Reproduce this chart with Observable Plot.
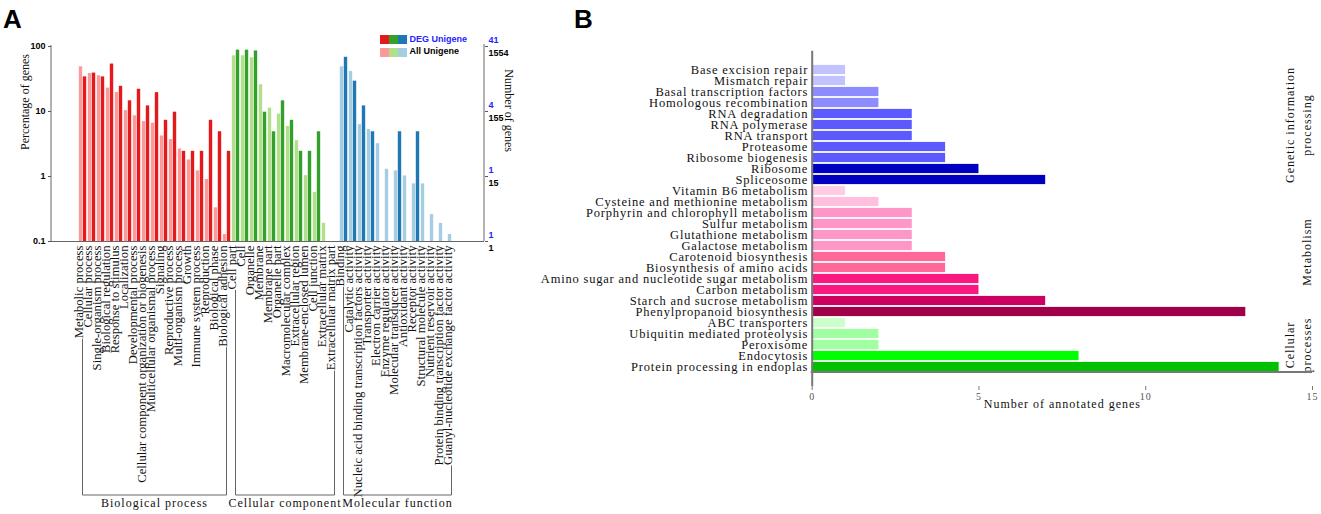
<!DOCTYPE html>
<html><head><meta charset="utf-8">
<script src="https://cdn.jsdelivr.net/npm/d3@7"></script>
<script src="https://cdn.jsdelivr.net/npm/@observablehq/plot@0.6"></script>
<style>
body{margin:0;background:#fff;}
#wrap{position:relative;width:1321px;height:514px;overflow:hidden;}
.abs{position:absolute;}
.letter{position:absolute;font:bold 26px "Liberation Sans",Arial,sans-serif;line-height:26px;color:#000;}
.sw{position:absolute;width:8.5px;height:8.5px;}
.legtxt{position:absolute;font:bold 9px "Liberation Sans",Arial,sans-serif;line-height:9px;white-space:nowrap;}
</style></head>
<body><div id="wrap">
<div id="panelA" class="abs" style="left:0;top:0;width:540px;height:514px"></div>
<div id="panelB" class="abs" style="left:521px;top:0;width:800px;height:514px"></div>
<div class="letter" style="left:3px;top:6px">A</div>
<div class="letter" style="left:574px;top:6px">B</div>
<div id="legend"></div>
</div>
<script>
// ---------- Panel A data (percentage of genes) ----------
const bioCats = ["Metabolic process","Cellular process","Single-organism process","Biological regulation","Response to stimulus","Localization","Developmental process","Cellular component organization or biogenesis","Multicellular organismal process","Signaling","Reproductive process","Multi-organism process","Growth","Immune system process","Reproduction","Biological phase","Biological adhesion"];
const bioAll = [48.7,38.5,35.4,22.9,19.6,10.3,8.6,7.0,6.6,4.2,3.7,2.65,1.8,1.22,0.9,0.33,0.128];
const bioDeg = [34.1,39.0,34.1,53.7,24.4,14.6,22.0,12.2,19.5,7.32,9.76,2.44,2.44,2.44,7.32,4.88,2.44];

const ccCats = ["Cell part","Cell","Organelle","Membrane","Membrane part","Organelle part","Macromolecular complex","Extracellular region","Membrane-enclosed lumen","Cell junction","Extracellular matrix","Extracellular matrix part"];
const ccAll = [71.9,71.9,67.0,25.8,11.3,9.1,5.9,3.56,1.03,0.57,0.19,null];
const ccDeg = [87.8,87.8,85.4,9.76,4.88,14.6,7.32,2.44,2.44,4.88,null,null];

const mfCats = ["Binding","Catalytic activity","Nucleic acid binding transcription factors activity","Transporter activity","Electron carrier activity","Enzyme regulator activity","Molecular transducer activity","Antioxidant activity","Receptor activity","Structural molecule activity","Nutrient reservoir activity","Protein binding transcription factor activity","Guanyl-nucleotide exchange factor activity"];
const mfAll = [48.7,41.3,6.26,5.3,3.2,1.29,1.22,1.02,0.77,0.77,0.26,0.19,0.128];
const mfDeg = [68.3,29.3,12.2,4.88,null,null,4.88,null,4.88,null,null,null,null];

const groupNamesA = ["Biological process","Cellular component","Molecular function"];
const percentTicks = [0.1,1,10,100];
const degCountLabels = ["1","1","4","41"];
const allCountLabels = ["1","15","155","1554"];
const legendLabels = ["DEG Unigene","All Unigene"];

// ---------- Panel B data ----------
const pathways = ["Base excision repair","Mismatch repair","Basal transcription factors","Homologous recombination","RNA degradation","RNA polymerase","RNA transport","Proteasome","Ribosome biogenesis","Ribosome","Spliceosome","Vitamin B6 metabolism","Cysteine and methionine metabolism","Porphyrin and chlorophyll metabolism","Sulfur metabolism","Glutathione metabolism","Galactose metabolism","Carotenoid biosynthesis","Biosynthesis of amino acids","Amino sugar and nucleotide sugar metabolism","Carbon metabolism","Starch and sucrose metabolism","Phenylpropanoid biosynthesis","ABC transporters","Ubiquitin mediated proteolysis","Peroxisome","Endocytosis","Protein processing in endoplas"];
const geneCounts = [1,1,2,2,3,3,3,4,4,5,7,1,2,3,3,3,3,4,4,5,5,7,13,1,2,2,8,14];
const pathwayClass = ["Genetic information processing","Genetic information processing","Genetic information processing","Genetic information processing","Genetic information processing","Genetic information processing","Genetic information processing","Genetic information processing","Genetic information processing","Genetic information processing","Genetic information processing","Metabolism","Metabolism","Metabolism","Metabolism","Metabolism","Metabolism","Metabolism","Metabolism","Metabolism","Metabolism","Metabolism","Metabolism","Cellular processes","Cellular processes","Cellular processes","Cellular processes","Cellular processes"];
const classLabels = ["Genetic information\nprocessing","Metabolism","Cellular\nprocesses"];
const xTicksB = [0,5,10,15];

// ---------- styles ----------
const serif = "'Liberation Serif','Times New Roman',serif";
const sans = "'Liberation Sans',Arial,sans-serif";
const paletteA = {
  "Biological process": ["#fb9a99","#e31a1c"],
  "Cellular component": ["#b2df8a","#33a02c"],
  "Molecular function": ["#a6cee3","#1f78b4"]
};
const degBlue = "#2323ff";
const shadeB = {
  "Genetic information processing": {1:"#c2c2ff",2:"#8c8cff",3:"#5a5aff",4:"#5a5aff",5:"#0000c0",7:"#0000c0"},
  "Metabolism": {1:"#ffcce6",2:"#ffc0e0",3:"#ff96c8",4:"#ff6898",5:"#f81880",7:"#cc0060",13:"#a00048"},
  "Cellular processes": {1:"#ccffcc",2:"#a0ffa0",8:"#00ff00",14:"#00c000"}
};
const classColor = {"Genetic information processing":"#1a1aff","Metabolism":"#ff1a1a","Cellular processes":"#33dd33"};
const labelFontA = 12.7, labelSpacingA = 0;
const serifSize = 12, serifSpacing = 1;
const labelFontB = 12.5, labelSpacingB = 0.8;

// ---------- build tables ----------
const groupsA = [
  {name: groupNamesA[0], cats: bioCats, all: bioAll, deg: bioDeg},
  {name: groupNamesA[1], cats: ccCats, all: ccAll, deg: ccDeg},
  {name: groupNamesA[2], cats: mfCats, all: mfAll, deg: mfDeg}
];
const rowsA = groupsA.flatMap(g => g.cats.map((c,i) => ({cat:c, group:g.name, all:g.all[i], deg:g.deg[i]})));
const xDomain = rowsA.map(d => d.cat);
const rightAxis = percentTicks.map((v,i) => ({v, deg:degCountLabels[i], all:allCountLabels[i]}));

const plotA = Plot.plot({
  width:540, height:514,
  marginLeft:51, marginRight:56, marginTop:46, marginBottom:273,
  style:{background:"transparent", overflow:"visible", fontFamily:serif},
  x:{domain:xDomain, padding:0, insetLeft:16, insetRight:17, axis:null},
  y:{type:"log", domain:[0.1,100], axis:null},
  marks:[
    Plot.barY(rowsA.filter(d => d.all != null), {x:"cat", y1:0.1, y2:"all", fill:d => paletteA[d.group][0], insetLeft:0.8, insetRight:4.8}),
    Plot.barY(rowsA.filter(d => d.deg != null), {x:"cat", y1:0.1, y2:"deg", fill:d => paletteA[d.group][1], insetLeft:4.8, insetRight:0.8}),
    Plot.ruleY([0.1], {stroke:"#666"}),
    Plot.axisY({anchor:"left", ticks:percentTicks, tickFormat:d => d < 1 ? "0.1" : String(d), tickSize:3, tickPadding:3, fontFamily:sans, fontWeight:"bold", fontSize:9, stroke:"#555", fill:"#000", label:null}),
    Plot.axisY({anchor:"right", ticks:percentTicks, tickFormat:() => "", tickSize:3, stroke:"#555", label:null}),
    Plot.text(rightAxis, {y:"v", text:"deg", frameAnchor:"right", dx:4, dy:-6, textAnchor:"start", fill:degBlue, fontFamily:sans, fontWeight:"bold", fontSize:9}),
    Plot.text(rightAxis, {y:"v", text:"all", frameAnchor:"right", dx:4, dy:7, textAnchor:"start", fill:"#000", fontFamily:sans, fontWeight:"bold", fontSize:9}),
    Plot.text(xDomain, {x:d => d, text:d => d, frameAnchor:"bottom", rotate:-90, textAnchor:"end", dy:4, fontFamily:serif, fontSize:labelFontA, fill:"#111", ariaLabel:"category-labels"}),
    Plot.text(["Percentage of genes"], {frameAnchor:"left", rotate:-90, dx:-26, dy:6, fontFamily:serif, fontSize:serifSize, fill:"#111", ariaLabel:"serif-title"}),
    Plot.text(["Number of genes"], {frameAnchor:"right", rotate:90, dx:24, dy:8, fontFamily:serif, fontSize:serifSize, fill:"#111", ariaLabel:"serif-title"})
  ]
});
document.getElementById("panelA").appendChild(plotA);
d3.select(plotA).selectAll('g[aria-label="category-labels"]').attr("letter-spacing", labelSpacingA + "px");
d3.select(plotA).selectAll('g[aria-label="serif-title"]').attr("letter-spacing", serifSpacing + "px");

// axis lines + group brackets drawn from Plot's scales
(function(){
  const xs = plotA.scale("x"), ys = plotA.scale("y");
  const bw = xs.bandwidth;
  const cx = c => xs.apply(c) + bw/2;
  const yTop = ys.apply(100), yBot = ys.apply(0.1);
  const svg = d3.select(plotA);
  const g = svg.append("g").attr("stroke","#666").attr("fill","none");
  g.append("line").attr("x1",51).attr("x2",51).attr("y1",yTop-1).attr("y2",yBot);
  g.append("line").attr("x1",484).attr("x2",484).attr("y1",yTop-2).attr("y2",yBot);
  const ctx = document.createElement("canvas").getContext("2d");
  ctx.font = labelFontA + "px 'Liberation Serif'";
  const labTop = yBot + 4;
  const brY = 495;
  groupsA.forEach(gr => {
    const first = gr.cats[0], last = gr.cats[gr.cats.length-1];
    const x1 = cx(first), x2 = cx(last);
    [first,last].forEach((c,i) => {
      const x = i ? x2 : x1;
      const len = ctx.measureText(c).width + c.length * labelSpacingA;
      g.append("line").attr("x1",x).attr("x2",x).attr("y1",Math.min(labTop + len + 1, brY - 4)).attr("y2",brY);
    });
    g.append("line").attr("x1",x1).attr("x2",x2).attr("y1",brY).attr("y2",brY);
    svg.append("text").attr("x",(x1+x2)/2).attr("y",507).attr("text-anchor","middle")
      .attr("font-family",serif).attr("font-size",serifSize).attr("letter-spacing",serifSpacing + "px")
      .attr("fill","#111").text(gr.name);
  });
})();

// legend (HTML)
(function(){
  const leg = document.getElementById("legend");
  const rows = [{top:35.3, idx:1, text:legendLabels[0], color:degBlue, ttop:35},
                {top:48, idx:0, text:legendLabels[1], color:"#000", ttop:47}];
  rows.forEach(r => {
    groupNamesA.forEach((gname,i) => {
      const s = document.createElement("div");
      s.className = "sw";
      s.style.left = (380 + i*9.1) + "px";
      s.style.top = r.top + "px";
      s.style.background = paletteA[gname][r.idx];
      leg.appendChild(s);
    });
    const t = document.createElement("div");
    t.className = "legtxt";
    t.style.left = "409.5px"; t.style.top = r.ttop + "px"; t.style.color = r.color;
    t.textContent = r.text;
    leg.appendChild(t);
  });
})();

// ---------- Panel B ----------
const rowsB = pathways.map((p,i) => ({name:p, n:geneCounts[i], cls:pathwayClass[i]}));
const classAnchors = [
  {label:classLabels[0], at:pathways[5]},
  {label:classLabels[2], at:pathways[25]}
];
const plotB = Plot.plot({
  width:800, height:514,
  marginLeft:290.7, marginRight:9, marginTop:50.7, marginBottom:128,
  style:{background:"transparent", overflow:"visible", fontFamily:serif, letterSpacing: serifSpacing + "px"},
  x:{domain:[0,15], axis:null},
  y:{domain:pathways, padding:0, axis:null},
  marks:[
    Plot.barX(rowsB, {y:"name", x:"n", fill:d => shadeB[d.cls][d.n], insetTop:0.9, insetBottom:0.9}),
    Plot.ruleX(rowsB, {x:15, y:"name", stroke:d => classColor[d.cls], strokeWidth:2}),
    Plot.ruleX([0], {stroke:"#777", strokeWidth:2}),
    Plot.axisY({tickSize:0, tickPadding:4, fontFamily:serif, fontSize:labelFontB, fill:"#111", label:null, ariaLabel:"pathway-labels"}),
    Plot.axisX({ticks:xTicksB, tickSize:4, tickPadding:2, fontFamily:serif, fontSize:10, fill:"#555", stroke:"#777", label:null}),
    Plot.text(["Number of annotated genes"], {frameAnchor:"bottom", dy:21, fontFamily:serif, fontSize:serifSize, fill:"#111"}),
    Plot.text(classAnchors, {x:15, y:"at", text:"label", rotate:-90, dx:-2, lineAnchor:"bottom", lineHeight:1.4, fontFamily:serif, fontSize:serifSize, fill:"#111"}),
    Plot.text([{label:classLabels[1], at:pathways[16]}], {x:15, y:"at", text:"label", rotate:-90, dx:-2, dy:6, lineAnchor:"bottom", fontFamily:serif, fontSize:serifSize, fill:"#111"})
  ]
});
document.getElementById("panelB").appendChild(plotB);
d3.select(plotB).selectAll('g[aria-label^="pathway-labels"]').attr("letter-spacing", labelSpacingB + "px");
(function(){
  const xs = plotB.scale("x"), ys = plotB.scale("y");
  const yb = ys.apply(pathways[pathways.length-1]) + ys.bandwidth;
  d3.select(plotB).append("line").attr("x1",xs.apply(0)-1).attr("x2",xs.apply(15)).attr("y1",yb).attr("y2",yb)
    .attr("stroke","#777").attr("stroke-width",2);
})();
</script>
</body></html>
